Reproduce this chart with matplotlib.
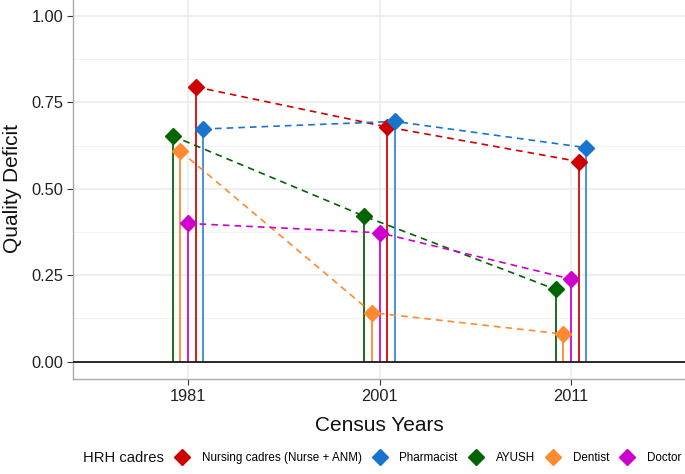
import matplotlib
matplotlib.use("Agg")
import matplotlib.pyplot as plt
from matplotlib.lines import Line2D
import numpy as np

plt.rcParams['font.family'] = ['Liberation Sans', 'DejaVu Sans']

years = ["1981", "2001", "2011"]
cadres = ["Nursing cadres (Nurse + ANM)", "Pharmacist", "AYUSH", "Dentist", "Doctor"]
nursing = [0.795, 0.679, 0.579]
pharmacist = [0.673, 0.695, 0.619]
ayush = [0.653, 0.421, 0.209]
dentist = [0.609, 0.142, 0.080]
doctor = [0.400, 0.373, 0.239]
values = [nursing, pharmacist, ayush, dentist, doctor]
colors = ["#CD0000", "#1874CD", "#006400", "#FF8A30", "#CD00CD"]
stem_colors = ["#D81818", "#4A90DE", "#1A6E1A", "#FF9440", "#D21AD2"]
offsets = [0.04, 0.08, -0.08, -0.04, 0.0]

fig = plt.figure(figsize=(6.85, 4.74), dpi=100)
ax = fig.add_axes([73/685, 1 - 379/474, 613/685, 380.3/474])

ax.set_xlim(0.4, 3.6)
ax.set_ylim(-0.05, 1.05)

# grid
for y in [0, 0.25, 0.5, 0.75, 1.0]:
    ax.axhline(y, color="#EBEBEB", lw=1.1, zorder=0)
for y in [0.125, 0.375, 0.625, 0.875]:
    ax.axhline(y, color="#F3F3F3", lw=0.7, zorder=0)
for x in [1, 2, 3]:
    ax.axvline(x, color="#EBEBEB", lw=1.1, zorder=0)

xs = np.arange(1, len(years) + 1)
for vals, c, sc, off in zip(values, colors, stem_colors, offsets):
    xp = xs + off
    ax.vlines(xp, 0, vals, colors=sc, lw=1.4, zorder=2)
    ax.plot(xp, vals, ls=(0, (4, 3)), color=c, lw=1.2, zorder=3)
    ax.plot(xp, vals, ls="none", marker="D", ms=7.8, color=c, mec=c, zorder=4)

ax.axhline(0, color="#1A1A1A", lw=1.3, zorder=3)

ax.set_xticks(xs)
ax.set_xticklabels(years)
ax.set_yticks([0, 0.25, 0.5, 0.75, 1.0])
ax.set_yticklabels(["0.00", "0.25", "0.50", "0.75", "1.00"])
ax.tick_params(axis="both", labelsize=11.8, colors="#333333", length=4, width=0.8,
               labelcolor="#222222", pad=3)

for s in ["top", "right"]:
    ax.spines[s].set_visible(False)
for s in ["left", "bottom"]:
    ax.spines[s].set_color("#AAAAAA")
    ax.spines[s].set_linewidth(1.0)

ax.set_xlabel("Census Years", fontsize=15, labelpad=9, color="#111111")
ax.set_ylabel("Quality Deficit", fontsize=15, labelpad=7, color="#111111")

handles = [Line2D([0], [0], marker="D", color=c, ls="none", ms=8.2) for c in colors]
leg = fig.legend(handles, cadres, loc="center left", bbox_to_anchor=(176/685, 1 - 458/474),
                 ncol=5, frameon=False, fontsize=8.4, handlelength=1.0,
                 handletextpad=1.2, columnspacing=1.05, borderaxespad=0, borderpad=0)
fig.text(83/685, 1 - 458/474, "HRH cadres", fontsize=10.6, va="center", ha="left", color="#111111")

fig.savefig("out.png", dpi=100)
